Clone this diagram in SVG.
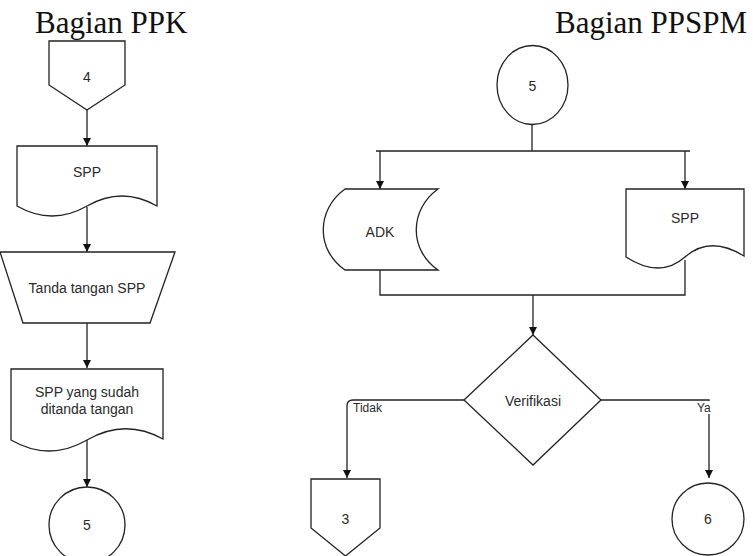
<svg xmlns="http://www.w3.org/2000/svg" width="753" height="556" viewBox="0 0 753 556">
<defs>
<style>
.s{fill:#fff;stroke:#222;stroke-width:1.3}
.t{font-family:"Liberation Sans",Arial,sans-serif;font-size:14px;fill:#2a2a2a;text-anchor:middle;dominant-baseline:central}
.h{font-family:"Liberation Serif","Times New Roman",serif;font-size:31px;fill:#111}
.e{fill:none;stroke:#222;stroke-width:1.3}
.l{font-family:"Liberation Sans",Arial,sans-serif;font-size:12px;fill:#2a2a2a}
</style>
<marker id="a" viewBox="0 0 10 10" refX="10" refY="5" markerWidth="8" markerHeight="8" markerUnits="userSpaceOnUse" orient="auto">
<path d="M0,0 L10,5 L0,10 Z" fill="#111"/>
</marker>
</defs>
<rect width="753" height="556" fill="#fff"/>
<text class="h" x="35" y="33">Bagian PPK</text>
<text class="h" x="555" y="33">Bagian PPSPM</text>

<g id="connectors">
<path class="e" d="M87,110 V146" marker-end="url(#a)"/>
<path class="e" d="M87,207 V252" marker-end="url(#a)"/>
<path class="e" d="M87,323 V368" marker-end="url(#a)"/>
<path class="e" d="M87,440 V487" marker-end="url(#a)"/>
<path class="e" d="M532,125 V151 M376,151 H690"/>
<path class="e" d="M380,151 V189" marker-end="url(#a)"/>
<path class="e" d="M685,151 V189" marker-end="url(#a)"/>
<path class="e" d="M380,270 V295 H685 V260"/>
<path class="e" d="M533,295 V335" marker-end="url(#a)"/>
<path class="e" d="M464,400 H353 Q347,400 347,406 V478" marker-end="url(#a)"/>
<path class="e" d="M601,400 H709 V478" marker-end="url(#a)"/>
<rect x="352" y="401" width="33" height="13" fill="#fff"/>
<text class="l" x="353" y="411.5">Tidak</text>
<rect x="696" y="401" width="16" height="13" fill="#fff"/>
<text class="l" x="697" y="411.5">Ya</text>
</g>

<g id="off4">
<path class="s" d="M49,41 H125 V85 L87,110 L49,85 Z"/>
<text class="t" x="87" y="77">4</text>
</g>
<g id="doc-spp1">
<path class="s" d="M17,146 H157 V206 Q122,186 87,206 Q52,226 17,206 Z"/>
<text class="t" x="87" y="172">SPP</text>
</g>
<g id="manual-ttd">
<path class="s" d="M0,252 H175 L150,323 H23 Z"/>
<text class="t" x="87" y="288">Tanda tangan SPP</text>
</g>
<g id="doc-spp2">
<path class="s" d="M11,369 H163 V439 Q125,418 87,440 Q49,462 11,440 Z"/>
<text class="t" x="87" y="392">SPP yang sudah</text>
<text class="t" x="87" y="408.5">ditanda tangan</text>
</g>
<g id="circle5a">
<circle class="s" cx="87" cy="525" r="38"/>
<text class="t" x="87" y="525">5</text>
</g>

<g id="circle5b">
<ellipse class="s" cx="532.5" cy="85" rx="35.5" ry="39.5"/>
<text class="t" x="532.5" y="86">5</text>
</g>
<g id="adk">
<path class="s" d="M345,189 H438 C409,210 409,250 438,270 H345 C316,250 316,210 345,189 Z"/>
<text class="t" x="380" y="232">ADK</text>
</g>
<g id="doc-spp3">
<path class="s" d="M626,189 H744 V256 Q710,235 685,257 Q660,279 626,257 Z"/>
<text class="t" x="685" y="218">SPP</text>
</g>
<g id="verifikasi">
<path class="s" d="M533,335 L601,400 L533,465 L464,400 Z"/>
<text class="t" x="533" y="401">Verifikasi</text>
</g>
<g id="off3">
<path class="s" d="M311,479 H380 V528 L345.5,556 L311,528 Z"/>
<text class="t" x="345.5" y="519">3</text>
</g>
<g id="circle6">
<circle class="s" cx="708" cy="519" r="36"/>
<text class="t" x="708" y="519">6</text>
</g>
</svg>
